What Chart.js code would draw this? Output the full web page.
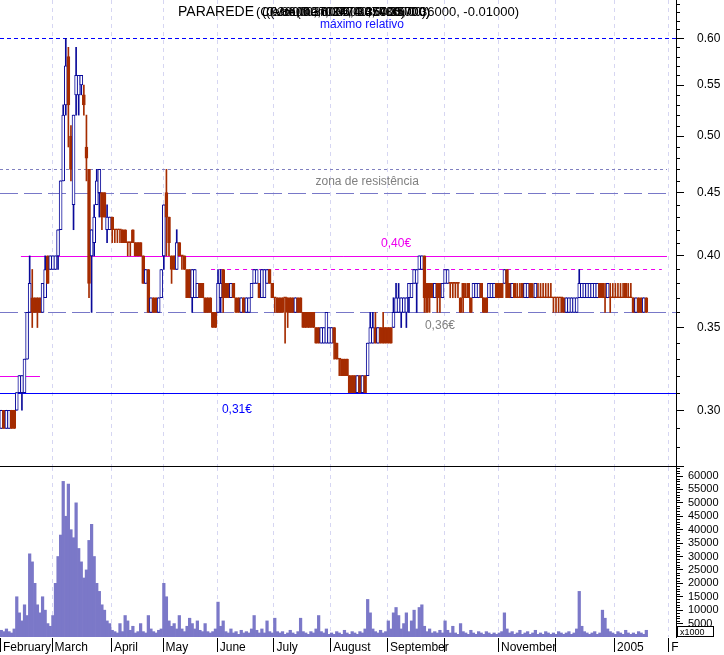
<!DOCTYPE html>
<html>
<head>
<meta charset="utf-8">
<script src="https://cdn.jsdelivr.net/npm/chart.js@4/dist/chart.umd.min.js"></script>
<style>
  html, body { margin: 0; padding: 0; background: #fff; }
  #wrap { position: relative; width: 724px; height: 655px; }
  #priceChart { position: absolute; left: 0; top: 0; }
  #volChart { position: absolute; left: 0; top: 467px; }
</style>
</head>
<body>
<div id="wrap">
  <canvas id="priceChart" width="724" height="467"></canvas>
  <canvas id="volChart" width="724" height="188"></canvas>
</div>
<script>
// daily sessions, Feb 2004 .. mid Jan 2005 (one row per month)
const openP = [
  .29,.30,.29,.29,.30,.30,.30,.31,.31,.31,.33,.36,.37,.37,.37,.37,.36,.37,.40,.39,
  .39,.39,.40,.42,.46,.53,.58,.50,.44,.54,.54,.55,.54,.49,.47,.40,.41,.44,.45,.45,.45,.42,.42,
  .43,.42,.42,.42,.42,.42,.41,.41,.42,.41,.41,.41,.40,.38,.39,.36,.37,.37,.36,.37,
  .40,.45,.43,.40,.40,.39,.41,.40,.40,.39,.39,.37,.37,.37,.38,.38,.37,.37,.37,.36,.36,
  .36,.37,.39,.38,.38,.37,.38,.37,.37,.36,.37,.36,.36,.37,.38,.38,.38,.37,.37,.38,.39,.38,
  .37,.37,.37,.37,.37,.37,.37,.37,.36,.37,.37,.36,.36,.36,.36,.36,.35,.35,.34,.34,.34,.34,
  .34,.35,.34,.33,.33,.33,.33,.32,.32,.32,.31,.32,.31,.32,.32,.34,.34,.35,.34,.35,.35,.35,
  .35,.35,.35,.36,.36,.36,.36,.36,.37,.37,.38,.38,.39,.39,.40,.38,.38,.38,.37,.38,.38,.37,
  .38,.38,.38,.38,.38,.38,.37,.38,.37,.38,.37,.37,.37,.37,.38,.37,.37,.37,.37,.37,.38,
  .38,.38,.38,.39,.38,.37,.38,.37,.37,.38,.37,.37,.38,.37,.37,.37,.37,.37,.37,.37,.37,.37,
  .37,.37,.37,.37,.36,.36,.36,.36,.36,.37,.37,.37,.37,.37,.37,.37,.37,.38,.38,.37,.37,.37,.37,
  .37,.37,.37,.37,.38,.37,.37,.37,.36,.37,.37,.36,.37
];
const highP = [
  .30,.30,.30,.30,.30,.30,.31,.32,.32,.33,.36,.40,.39,.37,.37,.37,.38,.40,.40,.40,
  .40,.40,.42,.46,.53,.60,.59,.51,.52,.59,.56,.56,.55,.52,.47,.42,.44,.47,.47,.45,.45,.44,.43,
  .43,.42,.42,.42,.42,.42,.41,.41,.42,.41,.41,.41,.40,.39,.39,.37,.37,.37,.37,.39,
  .44,.47,.43,.40,.40,.42,.41,.40,.40,.39,.39,.39,.39,.38,.38,.38,.37,.37,.37,.36,.36,
  .39,.39,.39,.38,.38,.38,.38,.37,.37,.37,.37,.37,.37,.38,.39,.39,.38,.39,.39,.39,.39,.38,
  .37,.37,.37,.37,.37,.37,.37,.37,.37,.37,.37,.36,.36,.36,.36,.36,.35,.35,.35,.35,.36,.35,
  .35,.35,.34,.33,.33,.33,.33,.32,.32,.32,.32,.32,.32,.32,.34,.36,.36,.36,.35,.35,.36,.35,
  .35,.35,.37,.38,.38,.37,.37,.37,.38,.38,.39,.39,.40,.40,.40,.38,.38,.38,.38,.38,.38,.38,
  .39,.39,.38,.38,.38,.38,.37,.38,.38,.38,.37,.38,.38,.38,.38,.37,.37,.38,.38,.38,.38,
  .38,.38,.39,.39,.38,.38,.38,.38,.38,.38,.38,.38,.38,.38,.38,.38,.38,.38,.38,.38,.38,.37,
  .37,.37,.37,.37,.37,.37,.37,.37,.37,.39,.38,.38,.38,.38,.38,.38,.38,.38,.38,.38,.38,.38,.38,
  .38,.38,.38,.38,.38,.38,.38,.37,.37,.37,.37,.37,.37
];
const lowP = [
  .29,.29,.29,.29,.29,.29,.30,.31,.30,.31,.33,.36,.35,.36,.35,.36,.36,.37,.38,.39,
  .39,.39,.39,.42,.46,.52,.49,.46,.42,.52,.52,.54,.52,.46,.37,.36,.40,.44,.43,.42,.43,.41,.42,
  .41,.41,.41,.41,.41,.41,.40,.40,.41,.40,.40,.40,.38,.38,.36,.36,.36,.36,.36,.37,
  .39,.40,.40,.38,.39,.39,.40,.39,.39,.37,.37,.36,.37,.37,.37,.37,.36,.36,.36,.35,.35,
  .36,.36,.36,.37,.37,.37,.37,.36,.36,.36,.36,.36,.36,.37,.38,.38,.37,.37,.37,.38,.38,.37,
  .36,.36,.36,.36,.34,.35,.36,.36,.36,.36,.36,.35,.35,.35,.35,.35,.34,.34,.34,.34,.34,.34,
  .34,.33,.33,.32,.32,.32,.32,.31,.31,.31,.31,.31,.31,.31,.32,.34,.34,.34,.34,.34,.34,.34,
  .34,.34,.35,.36,.36,.35,.36,.35,.36,.37,.38,.36,.39,.39,.36,.36,.36,.37,.37,.36,.36,.37,
  .38,.38,.37,.37,.37,.37,.36,.36,.37,.37,.36,.37,.37,.37,.37,.36,.36,.37,.37,.37,.37,
  .37,.37,.38,.37,.37,.37,.37,.37,.37,.37,.37,.37,.37,.37,.37,.37,.37,.37,.37,.37,.37,.36,
  .36,.36,.36,.36,.36,.36,.36,.36,.36,.37,.37,.37,.37,.37,.37,.37,.37,.37,.37,.36,.37,.36,.37,
  .37,.37,.37,.37,.37,.37,.37,.36,.36,.36,.36,.36,.36
];
const closeP = [
  .30,.29,.30,.30,.29,.29,.31,.32,.32,.33,.36,.38,.36,.36,.36,.36,.38,.39,.38,.40,
  .40,.40,.42,.46,.52,.57,.53,.47,.52,.56,.56,.56,.53,.48,.38,.42,.43,.46,.47,.43,.43,.43,.43,
  .42,.42,.42,.42,.41,.41,.41,.41,.41,.40,.40,.40,.38,.39,.36,.37,.36,.36,.37,.39,
  .44,.43,.41,.39,.39,.41,.40,.40,.39,.37,.37,.39,.39,.38,.37,.37,.36,.36,.36,.35,.35,
  .38,.38,.37,.37,.37,.38,.37,.36,.36,.37,.36,.37,.37,.38,.39,.39,.37,.39,.39,.39,.38,.37,
  .37,.36,.36,.36,.37,.36,.36,.36,.37,.36,.36,.35,.35,.35,.35,.35,.34,.34,.35,.35,.36,.35,
  .35,.34,.33,.33,.32,.32,.32,.31,.31,.31,.32,.31,.32,.31,.34,.35,.35,.34,.35,.34,.34,.34,
  .34,.34,.36,.37,.37,.37,.37,.37,.38,.38,.39,.39,.40,.40,.37,.36,.37,.37,.38,.37,.37,.38,
  .39,.39,.38,.38,.38,.38,.36,.37,.37,.37,.36,.38,.38,.38,.37,.36,.36,.38,.38,.38,.37,
  .37,.37,.39,.37,.37,.38,.37,.37,.37,.37,.38,.38,.37,.37,.38,.37,.37,.37,.37,.37,.37,.37,
  .37,.37,.37,.36,.37,.37,.37,.37,.37,.38,.38,.38,.38,.38,.38,.38,.38,.37,.37,.37,.38,.37,.37,
  .37,.37,.37,.37,.37,.37,.37,.36,.37,.36,.36,.37,.36
];
const volume = [
  2500,2000,3000,2000,1500,3000,15000,9000,6000,12000,8000,31000,28000,20000,12000,9000,15000,10000,5000,4000,
  8000,20000,30000,38000,58000,45000,57000,40000,37000,50000,33000,28000,22000,25000,36000,42000,30000,20000,17000,12000,10000,6000,5000,
  2500,2000,1500,5000,2000,8000,6000,2500,4000,1500,2000,5000,2000,1500,8000,3000,2000,1500,2500,3000,
  20000,15000,6000,4000,5000,3000,8000,3000,2000,4000,7000,5000,3000,6000,2500,2000,5000,2000,1500,2000,3000,
  13000,4000,6000,2000,1500,3000,1500,2000,1000,2500,1500,2000,1500,3000,8000,2500,1500,3000,1500,6000,2000,1500,
  7000,2000,1500,2000,1000,1500,2500,1500,1000,2000,7000,2000,1500,1000,2000,1500,3000,8000,2000,1500,3000,1000,
  1500,1000,2000,1500,1000,2500,1500,1000,2000,1500,1000,2000,1500,3000,14000,9000,3000,2000,1500,2500,1500,2000,
  6000,3000,9000,11000,8000,3000,5000,9000,2000,6000,10000,3000,11000,12000,4000,2000,3000,1500,2000,1500,2500,1500,
  6000,2500,1500,4000,1500,1000,5000,2000,1500,1000,2500,1500,1000,2000,1500,1000,2000,1500,1000,1500,1000,
  1500,2000,9000,3000,1500,2000,1000,1500,2500,1000,1500,2000,1000,1500,2500,1000,1500,1000,2000,1500,1000,1500,
  1000,2000,1500,1000,1500,2000,1000,1500,3000,17000,4000,2000,1500,1000,1500,2000,1000,1500,10000,7000,3000,2000,1500,
  1000,2000,1500,1000,2500,1500,1000,1500,1000,2000,1500,1000,2500
];

const monthStarts = [0, 20, 43, 63, 84, 106, 128, 150, 172, 193, 215, 238, 259];
const monthLabels = ["February", "March", "April", "May", "June", "July", "August", "September", "", "November", "", "2005", "F"];
const priceTicks = [0.30, 0.35, 0.40, 0.45, 0.50, 0.55, 0.60];
const volTicks = [5000, 10000, 15000, 20000, 25000, 30000, 35000, 40000, 45000, 50000, 55000, 60000];

const FONT = "'Liberation Sans', Arial, sans-serif";
const BLUE = "#0a0a9a";
const BROWN = "#a52c00";
const VOLC = "#7b78c8";
const LAV = "#7878c8";
const MAG = "#ee00ee";

const days = openP.map((_, i) => i);
const isUp = i => closeP[i] > openP[i];

// reference lines: value, from day, to day, colour, dash
const refLines = [
  [0.60, -0.5, 261.5, "#0000ff", [4, 3]],
  [0.47, -0.5, 258, "#8080c0", [3, 3]],
  [0.45, -0.5, 258, LAV, [18, 6]],
  [0.40, 7.6, 258, MAG, []],
  [0.39, 81.3, 256, MAG, [4, 4]],
  [0.36, -0.5, 261.5, LAV, [18, 6]],
  [0.32, -0.5, 15, MAG, []],
  [0.31, -0.5, 261.5, "#0000ff", []]
];
// notes: text, day, value, dy, colour, align
const notes = [
  ["máximo relativo", 139.8, 0.60, -10, "#1010ff", "center"],
  ["zona de resistência", 141.8, 0.45, -8, "#808080", "center"],
  ["0,40€", 147.2, 0.40, -9, MAG, "left"],
  ["0,36€", 164.2, 0.36, 17, "#808080", "left"],
  ["0,31€", 85.5, 0.31, 20, "#0000ff", "left"]
];

function monthGrid(chart) {
  const { ctx, chartArea: a, scales: { x } } = chart;
  ctx.save();
  ctx.strokeStyle = "#d6d6f2";
  ctx.lineWidth = 1;
  ctx.setLineDash([4, 4]);
  monthStarts.slice(1).forEach(m => {
    const px = Math.round(x.getPixelForValue(m - 0.5)) + 0.5;
    ctx.beginPath();
    ctx.moveTo(px, a.top);
    ctx.lineTo(px, a.bottom);
    ctx.stroke();
  });
  ctx.restore();
}

const priceDecor = {
  id: "priceDecor",
  beforeDatasetsDraw(chart) {
    const { ctx, scales: { x, y } } = chart;
    monthGrid(chart);
    ctx.save();
    refLines.forEach(([v, d0, d1, col, dash]) => {
      const py = Math.round(y.getPixelForValue(v)) + 0.5;
      ctx.strokeStyle = col;
      ctx.lineWidth = 1;
      ctx.setLineDash(dash);
      ctx.beginPath();
      ctx.moveTo(x.getPixelForValue(d0), py);
      ctx.lineTo(x.getPixelForValue(d1), py);
      ctx.stroke();
    });
    ctx.setLineDash([]);
    ctx.font = "12px " + FONT;
    ctx.textBaseline = "alphabetic";
    notes.forEach(([t, d, v, dy, col, al]) => {
      ctx.fillStyle = col;
      ctx.textAlign = al;
      ctx.fillText(t, x.getPixelForValue(d), y.getPixelForValue(v) + dy);
    });
    ctx.restore();
  },
  afterDraw(chart) {
    const { ctx, chartArea: a, scales: { y } } = chart;
    ctx.save();
    // minor ticks every cent
    ctx.strokeStyle = "#000";
    ctx.lineWidth = 1;
    for (let c = 27; c <= 64; c++) {
      if (c % 5 === 0) continue;
      const py = Math.round(y.getPixelForValue(c / 100)) + 0.5;
      ctx.beginPath();
      ctx.moveTo(a.right, py);
      ctx.lineTo(a.right + 4, py);
      ctx.stroke();
    }
    ctx.beginPath();
    ctx.moveTo(0, a.bottom - 0.5);
    ctx.lineTo(a.right + 8, a.bottom - 0.5);
    ctx.stroke();
    // overlapping title strings as in the original export
    ctx.fillStyle = "#000";
    ctx.font = "14px " + FONT;
    ctx.textAlign = "left";
    ctx.fillText("PARAREDE", 178, 16);
    ctx.font = "13px " + FONT;
    ctx.textAlign = "right";
    ctx.fillText("(0.37000, 0.36000, 0.36000, -0.01000)", 519, 16);
    ctx.textAlign = "left";
    ctx.fillText("(Cierre, 0.36000, 3474.35700)", 256, 16);
    ctx.fillText("(0.36000, 0.37000, 0.36000)", 262, 16);
    ctx.fillText("(Volumen, 2474.35700)", 270, 16);
    ctx.fillText("(0.36000, 0.36000, 0.35000)", 266, 16);
    ctx.restore();
  }
};

const volDecor = {
  id: "volDecor",
  beforeDatasetsDraw(chart) {
    monthGrid(chart);
  },
  afterDraw(chart) {
    const { ctx, chartArea: a, scales: { x, y } } = chart;
    ctx.save();
    ctx.strokeStyle = "#000";
    ctx.lineWidth = 1;
    // month separators in the label row
    monthStarts.forEach(m => {
      const px = Math.round(x.getPixelForValue(m - 0.5)) + 0.5;
      ctx.beginPath();
      ctx.moveTo(px, a.bottom + 1);
      ctx.lineTo(px, a.bottom + 15);
      ctx.stroke();
    });
    // minor ticks every 1000
    for (let k = 1; k <= 63; k++) {
      if (k % 5 === 0) continue;
      const py = Math.round(y.getPixelForValue(k * 1000)) + 0.5;
      ctx.beginPath();
      ctx.moveTo(a.right, py);
      ctx.lineTo(a.right + 4, py);
      ctx.stroke();
    }
    // unit box
    const bx = a.right + 1, by = a.bottom - 11;
    ctx.fillStyle = "#fff";
    ctx.fillRect(bx, by, 37, 11);
    ctx.strokeRect(bx + 0.5, by + 0.5, 36, 10);
    ctx.fillStyle = "#000";
    ctx.font = "9px " + FONT;
    ctx.textAlign = "left";
    ctx.fillText("x1000", bx + 3, by + 9);
    ctx.restore();
  }
};

new Chart(document.getElementById("priceChart"), {
  type: "bar",
  data: {
    datasets: [
      {
        data: days.map(i => ({ x: i, y: [lowP[i], highP[i]] })),
        backgroundColor: days.map(i => isUp(i) ? BLUE : BROWN),
        barThickness: 1,
        grouped: false,
        order: 2
      },
      {
        data: days.map(i => ({ x: i, y: [openP[i], closeP[i]] })),
        backgroundColor: days.map(i => isUp(i) ? "#ffffff" : BROWN),
        borderColor: days.map(i => isUp(i) ? BLUE : BROWN),
        borderWidth: 1,
        borderSkipped: false,
        barThickness: 3,
        minBarLength: 1,
        grouped: false,
        order: 1
      }
    ]
  },
  options: {
    responsive: false,
    animation: false,
    layout: { padding: 0 },
    plugins: { legend: { display: false }, tooltip: { enabled: false } },
    scales: {
      x: { type: "linear", min: -0.5, max: 261.5, offset: false, display: false },
      y: {
        type: "logarithmic",
        position: "right",
        min: 0.2699,
        max: 0.6444,
        afterBuildTicks: s => { s.ticks = priceTicks.map(v => ({ value: v })); },
        afterFit: s => { s.width = 48; s.paddingTop = 0; s.paddingBottom = 0; },
        grid: { drawOnChartArea: false, tickLength: 8, tickColor: "#000" },
        border: { color: "#000" },
        ticks: {
          autoSkip: false,
          padding: 13,
          color: "#000",
          font: { family: FONT, size: 12 },
          callback: v => Number(v).toFixed(2)
        }
      }
    }
  },
  plugins: [priceDecor]
});

new Chart(document.getElementById("volChart"), {
  type: "bar",
  data: {
    datasets: [{
      data: days.map(i => ({ x: i, y: volume[i] })),
      backgroundColor: VOLC,
      barPercentage: 1,
      categoryPercentage: 1
    }]
  },
  options: {
    responsive: false,
    animation: false,
    layout: { padding: 0 },
    plugins: { legend: { display: false }, tooltip: { enabled: false } },
    scales: {
      x: {
        type: "linear",
        min: -0.5,
        max: 261.5,
        offset: false,
        afterBuildTicks: s => { s.ticks = monthStarts.map(m => ({ value: m - 0.5 })); },
        afterFit: s => { s.height = 18; s.paddingLeft = 0; s.paddingRight = 0; },
        grid: { display: false, drawTicks: false },
        border: { display: false },
        ticks: {
          autoSkip: false,
          maxRotation: 0,
          minRotation: 0,
          align: "start",
          labelOffset: 3,
          padding: 3,
          color: "#000",
          font: { family: FONT, size: 12 },
          callback: (v, i) => monthLabels[i]
        }
      },
      y: {
        position: "right",
        min: 0,
        max: 63360,
        afterBuildTicks: s => { s.ticks = volTicks.map(v => ({ value: v })); },
        afterFit: s => { s.width = 48; s.paddingTop = 0; s.paddingBottom = 0; },
        grid: { drawOnChartArea: false, tickLength: 7, tickColor: "#000" },
        border: { color: "#000" },
        ticks: {
          autoSkip: false,
          padding: 5,
          color: "#000",
          font: { family: FONT, size: 11 },
          callback: v => String(v)
        }
      }
    }
  },
  plugins: [volDecor]
});
</script>
</body>
</html>
